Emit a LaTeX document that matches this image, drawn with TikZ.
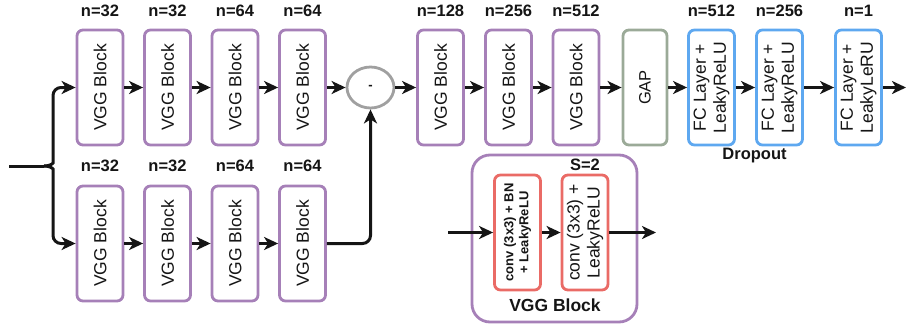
\documentclass[tikz,border=0pt]{standalone}
\usepackage{fontspec}
\setmainfont{Liberation Sans}
\usetikzlibrary{arrows.meta,shapes.geometric}
\definecolor{vggpurple}{HTML}{A680B8}
\definecolor{fcblue}{HTML}{5EA8F0}
\definecolor{convred}{HTML}{EA6B66}
\definecolor{gapgreen}{HTML}{9BAA98}
\definecolor{circgray}{HTML}{A0A0A0}
\definecolor{ink}{HTML}{151515}
\tikzset{
  boxbase/.style={draw, line width=2.8pt, rounded corners=6pt, rotate=90,
    minimum width=115pt, minimum height=46pt, inner sep=0pt, align=center,
    fill=white, text=ink},
  vggbox/.style={boxbase, draw=vggpurple, font=\fontsize{17.5}{19}\selectfont},
  gapbox/.style={boxbase, draw=gapgreen, font=\fontsize{16.5}{18}\selectfont},
  fcbox/.style={boxbase, draw=fcblue, font=\fontsize{17.5}{20}\selectfont},
  convbox/.style={boxbase, draw=convred},
  lbl/.style={font=\bfseries\fontsize{16.5}{18}\selectfont, text=ink, inner sep=0pt},
  conn/.style={draw=ink, line width=3pt, -{Stealth[length=14pt,width=13pt,inset=4pt]}},
  plainline/.style={draw=ink, line width=3pt},
}
\begin{document}
\begin{tikzpicture}[x=1pt,y=-1pt]
\useasboundingbox (0,0) rectangle (906,327);
% top row
\node[vggbox] (t1) at (100,87.5) {VGG Block};
\node[vggbox] (t2) at (167.5,87.5) {VGG Block};
\node[vggbox] (t3) at (235,87.5) {VGG Block};
\node[vggbox] (t4) at (302.5,87.5) {VGG Block};
% bottom row
\node[vggbox] (b1) at (100,243.5) {VGG Block};
\node[vggbox] (b2) at (167.5,243.5) {VGG Block};
\node[vggbox] (b3) at (235,243.5) {VGG Block};
\node[vggbox] (b4) at (302.5,243.5) {VGG Block};
% labels
\node[lbl] (lt1) at (100,11) {n=32};
\node[lbl] (lt2) at (167.5,11) {n=32};
\node[lbl] (lt3) at (235,11) {n=64};
\node[lbl] (lt4) at (302.5,11) {n=64};
\node[lbl] (lb1) at (100,166) {n=32};
\node[lbl] (lb2) at (167.5,166) {n=32};
\node[lbl] (lb3) at (235,166) {n=64};
\node[lbl] (lb4) at (302.5,166) {n=64};
% subtraction
\node[draw=circgray, line width=2.8pt, ellipse, minimum width=47pt, minimum height=41pt, inner sep=0pt, font=\bfseries\fontsize{13}{14}\selectfont, text=ink] (m) at (370.5,87.5) {-};
% second stage
\node[vggbox] (c1) at (440.5,87.5) {VGG Block};
\node[vggbox] (c2) at (508.5,87.5) {VGG Block};
\node[vggbox] (c3) at (576,87.5) {VGG Block};
\node[lbl] (lc1) at (440.5,11) {n=128};
\node[lbl] (lc2) at (508.5,11) {n=256};
\node[lbl] (lc3) at (576,11) {n=512};
\node[gapbox, minimum height=44pt] (gap) at (645,87.5) {GAP};
\node[fcbox] (fc1) at (711.5,87.5) {FC Layer +\\LeakyReLU};
\node[fcbox] (fc2) at (779.5,87.5) {FC Layer +\\LeakyReLU};
\node[fcbox] (fc3) at (858.5,87.5) {FC Layer +\\LeakyLeRU};
\node[lbl] (lf1) at (711.5,11) {n=512};
\node[lbl] (lf2) at (779.5,11) {n=256};
\node[lbl] (lf3) at (858.5,11) {n=1};
\node[lbl] (drop) at (754.5,156) {Dropout};
% VGG block detail
\node[draw=vggpurple, line width=2.8pt, rounded corners=18pt, minimum width=165pt, minimum height=167pt, inner sep=0pt] (outer) at (554.5,238.5) {};
\node[convbox, font=\bfseries\fontsize{13}{15}\selectfont] (ib1) at (517.5,232.5) {conv (3x3) + BN\\+ LeakyReLU};
\node[convbox, font=\fontsize{17.5}{20}\selectfont] (ib2) at (585,232.5) {conv (3x3) +\\LeakyReLU};
\node[lbl] (ls) at (585,165) {S=2};
\node[lbl, font=\bfseries\fontsize{17.5}{19}\selectfont] (lv) at (555,305) {VGG Block};
\coordinate (vin) at (448,232.5);
\coordinate (vout) at (656,232.5);
\draw[conn] (vin) -- (ib1);
\draw[conn] (ib1) -- (ib2);
\draw[conn] (ib2) -- (vout);
% input brace
\coordinate (in) at (9,166);
\coordinate (tip) at (44,166);
\draw[plainline] (in) -- (tip);
\draw[conn, rounded corners=8pt] (tip) .. controls (51,166) and (53,163) .. (53,155) |- (t1);
\draw[conn, rounded corners=8pt] (tip) .. controls (51,166) and (53,169) .. (53,177) |- (b1);
% chains
\draw[conn] (t1) -- (t2);
\draw[conn] (t2) -- (t3);
\draw[conn] (t3) -- (t4);
\draw[conn] (t4) -- (m);
\draw[conn] (b1) -- (b2);
\draw[conn] (b2) -- (b3);
\draw[conn] (b3) -- (b4);
\draw[conn, rounded corners=8pt] (b4) -| (m);
\draw[conn] (m) -- (c1);
\draw[conn] (c1) -- (c2);
\draw[conn] (c2) -- (c3);
\draw[conn] (c3) -- (gap);
\draw[conn] (gap) -- (fc1);
\draw[conn] (fc1) -- (fc2);
\draw[conn] (fc2) -- (fc3);
\coordinate (out) at (906,87.5);
\draw[conn] (fc3) -- (out);
\end{tikzpicture}
\end{document}
